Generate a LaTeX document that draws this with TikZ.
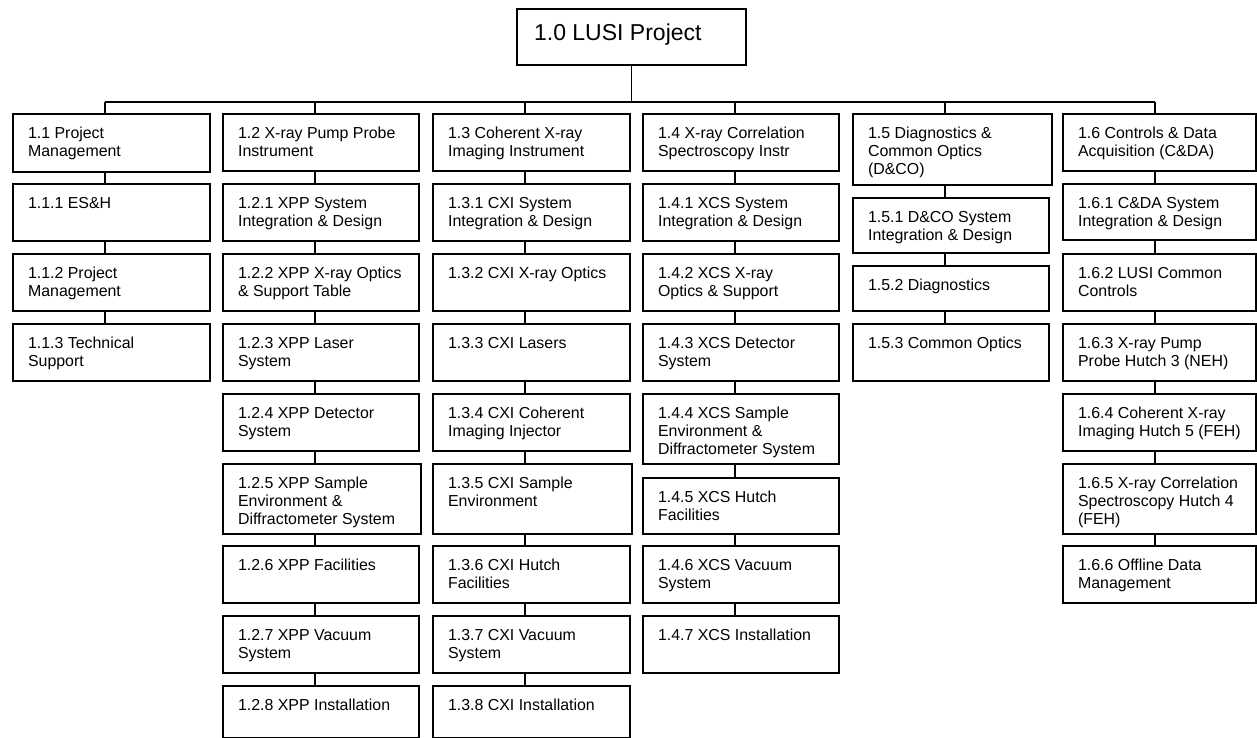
\documentclass[tikz,border=0pt]{standalone}
\usepackage{fontspec}
\setmainfont{Liberation Sans}
\newcommand\wbsfont{\fontsize{15.9}{18.3}\selectfont}
\tikzset{
  wbs/.style={draw=black, line width=2.2pt, anchor=north west, inner sep=0pt, fill=white},
  conn/.style={draw=black, line width=1.3pt}
}
% name, left, top, width, height, text
\newcommand\wbsnode[6]{\node[wbs] (#1) at (#2,#3) {\parbox[t][#5pt][t]{#4pt}{\wbsfont\leftskip=15pt\relax\rule{0pt}{24pt}#6}};}
\begin{document}
\begin{tikzpicture}[x=1pt,y=-1pt]
\useasboundingbox (0,0) rectangle (1257,738);
% root
\node[wbs] (root) at (516,8) {\parbox[t][56pt][t]{229pt}{\fontsize{23}{27}\selectfont\leftskip=17pt\relax\rule{0pt}{31pt}1.0 LUSI Project}};
% bus coordinates
\coordinate (c1) at (105,102);
\coordinate (c2) at (315,102);
\coordinate (c3) at (525,102);
\coordinate (c4) at (735,102);
\coordinate (c5) at (945,102);
\coordinate (c6) at (1155,102);
% column 1
\wbsnode{n11}{12}{113}{197}{58}{1.1 Project\\Management}
\wbsnode{n111}{12}{183}{197}{57}{1.1.1 ES\&H}
\wbsnode{n112}{12}{253}{197}{57}{1.1.2 Project\\Management}
\wbsnode{n113}{12}{323}{197}{57}{1.1.3 Technical\\Support}
% column 2
\wbsnode{n12}{222}{113}{196}{57}{1.2 X-ray Pump Probe\\Instrument}
\wbsnode{n121}{222}{183}{196}{57}{1.2.1 XPP System\\Integration \& Design}
\wbsnode{n122}{222}{253}{196}{57}{1.2.2 XPP X-ray Optics\\\& Support Table}
\wbsnode{n123}{222}{323}{196}{57}{1.2.3 XPP Laser\\System}
\wbsnode{n124}{222}{393}{196}{57}{1.2.4 XPP Detector\\System}
\wbsnode{n125}{222}{463}{198}{70}{1.2.5 XPP Sample\\Environment \&\\Diffractometer System}
\wbsnode{n126}{222}{545}{196}{57}{1.2.6 XPP Facilities}
\wbsnode{n127}{222}{615}{196}{57}{1.2.7 XPP Vacuum\\System}
\wbsnode{n128}{222}{685}{196}{52}{1.2.8 XPP Installation}
% column 3
\wbsnode{n13}{432}{113}{197}{57}{1.3 Coherent X-ray\\Imaging Instrument}
\wbsnode{n131}{432}{183}{197}{57}{1.3.1 CXI System\\Integration \& Design}
\wbsnode{n132}{432}{253}{197}{57}{1.3.2 CXI X-ray Optics}
\wbsnode{n133}{432}{323}{197}{57}{1.3.3 CXI Lasers}
\wbsnode{n134}{432}{393}{197}{57}{1.3.4 CXI Coherent\\Imaging Injector}
\wbsnode{n135}{432}{463}{199}{70}{1.3.5 CXI Sample\\Environment}
\wbsnode{n136}{432}{545}{197}{57}{1.3.6 CXI Hutch\\Facilities}
\wbsnode{n137}{432}{615}{197}{57}{1.3.7 CXI Vacuum\\System}
\wbsnode{n138}{432}{685}{197}{52}{1.3.8 CXI Installation}
% column 4
\wbsnode{n14}{642}{113}{196}{57}{1.4 X-ray Correlation\\Spectroscopy Instr}
\wbsnode{n141}{642}{183}{196}{57}{1.4.1 XCS System\\Integration \& Design}
\wbsnode{n142}{642}{253}{196}{57}{1.4.2 XCS X-ray\\Optics \& Support}
\wbsnode{n143}{642}{323}{196}{57}{1.4.3 XCS Detector\\System}
\wbsnode{n144}{642}{393}{196}{70}{1.4.4 XCS Sample\\Environment \&\\Diffractometer System}
\wbsnode{n145}{642}{477}{196}{56}{1.4.5 XCS Hutch\\Facilities}
\wbsnode{n146}{642}{545}{196}{57}{1.4.6 XCS Vacuum\\System}
\wbsnode{n147}{642}{615}{196}{57}{1.4.7 XCS Installation}
% column 5
\wbsnode{n15}{852}{113}{199}{71}{1.5 Diagnostics \&\\Common Optics\\(D\&CO)}
\wbsnode{n151}{852}{197}{196}{55}{1.5.1 D\&CO System\\Integration \& Design}
\wbsnode{n152}{852}{265}{196}{45}{1.5.2 Diagnostics}
\wbsnode{n153}{852}{323}{196}{57}{1.5.3 Common Optics}
% column 6
\wbsnode{n16}{1062}{113}{193}{57}{1.6 Controls \& Data\\Acquisition (C\&DA)}
\wbsnode{n161}{1062}{183}{193}{56}{1.6.1 C\&DA System\\Integration \& Design}
\wbsnode{n162}{1062}{253}{193}{57}{1.6.2 LUSI Common\\Controls}
\wbsnode{n163}{1062}{323}{193}{57}{1.6.3 X-ray Pump\\Probe Hutch 3 (NEH)}
\wbsnode{n164}{1062}{393}{193}{57}{1.6.4 Coherent X-ray\\Imaging Hutch 5 (FEH)}
\wbsnode{n165}{1062}{463}{193}{70}{1.6.5 X-ray Correlation\\Spectroscopy Hutch 4\\(FEH)}
\wbsnode{n166}{1062}{545}{193}{57}{1.6.6 Offline Data\\Management}
% connectors
\draw[conn] (root.south) -- (root.south |- c1);
\draw[conn] (c1) -- (c6);
\foreach \c/\list in {c1/{n11,n111,n112,n113},
                      c2/{n12,n121,n122,n123,n124,n125,n126,n127,n128},
                      c3/{n13,n131,n132,n133,n134,n135,n136,n137,n138},
                      c4/{n14,n141,n142,n143,n144,n145,n146,n147},
                      c5/{n15,n151,n152,n153},
                      c6/{n16,n161,n162,n163,n164,n165,n166}}{
  \def\prev{}
  \foreach \n in \list {
    \ifx\prev\empty
      \draw[conn] (\c) -- (\n.north -| \c);
    \else
      \draw[conn] (\prev.south -| \c) -- (\n.north -| \c);
    \fi
    \xdef\prev{\n}
  }
}
\end{tikzpicture}
\end{document}
